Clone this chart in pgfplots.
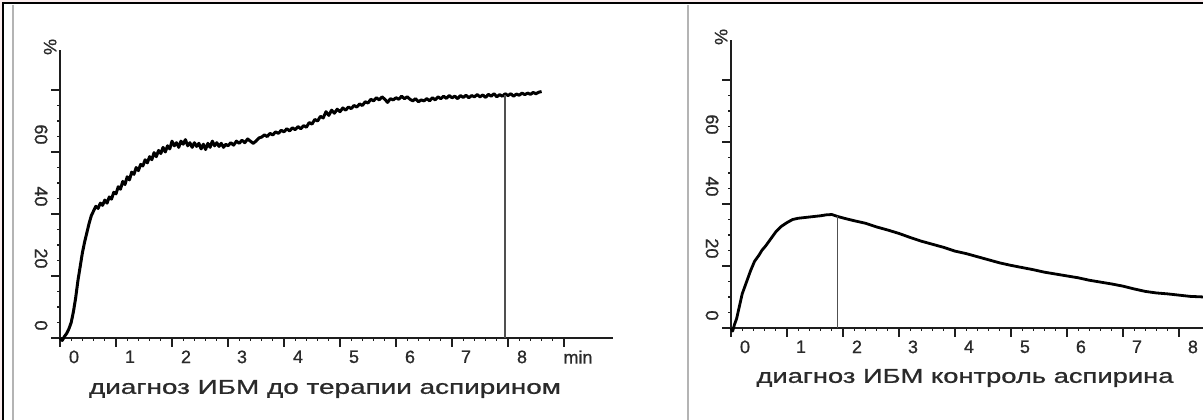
\documentclass[border=0pt]{standalone}
\usepackage{graphicx}
\usepackage{pgfplots}
\pgfplotsset{compat=1.18}
\usepackage{fontspec}
\setmainfont{Liberation Sans}[FakeBold=0.8]
\definecolor{txt}{HTML}{2A2A2A}
\definecolor{axc}{HTML}{1E1E1E}
\definecolor{vline}{HTML}{505050}
\definecolor{bgpink}{HTML}{FBEDEE}
\definecolor{sepc}{HTML}{B4B4B4}

\pgfplotstableread{
x y
0 0
0.04 -0.8
0.08 0.5
0.12 1.5
0.16 3
0.2 5
0.24 8.5
0.28 13
0.32 18.5
0.36 23
0.40 27.5
0.44 31
0.48 34
0.52 37
0.56 39.5
0.60 41
0.64 42.5
0.68 41.8
0.72 43.5
0.76 42.8
0.80 44.5
0.84 43.5
0.88 45.5
0.92 44.8
0.96 47
1.00 46.5
1.04 48.8
1.08 48
1.12 50.5
1.16 49.5
1.20 52
1.24 51
1.28 53.5
1.32 52.8
1.36 55
1.40 54
1.44 56
1.48 55.5
1.52 57.5
1.56 56.5
1.60 58.5
1.64 57.5
1.68 59.8
1.72 58.5
1.76 60.5
1.80 59.5
1.84 61.5
1.88 60
1.92 62
1.96 61
2.00 63.5
2.04 62
2.08 63
2.12 61.5
2.16 63.5
2.20 62.5
2.24 64
2.28 62
2.32 63
2.36 61.5
2.40 63
2.44 61.8
2.48 62.8
2.52 61
2.56 62.5
2.60 60.8
2.64 62.8
2.68 61.5
2.72 63.5
2.76 62
2.80 63
2.84 61.8
2.88 62.8
2.92 61.5
2.96 62.5
3.00 62
3.05 63
3.10 62.2
3.15 63.5
3.20 62.8
3.25 63.8
3.30 63
3.35 64.2
3.40 63.5
3.45 62.8
3.50 63.5
3.55 64.5
3.60 64.8
3.65 65.5
3.70 65
3.75 66
3.80 65.5
3.85 66.5
3.90 66
3.95 67
4.00 66.5
4.05 67.5
4.10 66.8
4.15 67.8
4.20 67.2
4.25 68.2
4.30 67.5
4.35 68.5
4.40 68
4.45 69.5
4.50 69
4.55 70.5
4.60 70
4.65 71.5
4.70 71
4.75 73
4.80 71.8
4.85 73.5
4.90 72.5
4.95 73.8
5.00 73
5.05 74.2
5.10 73.5
5.15 74.5
5.20 74
5.25 75
5.30 74.5
5.35 75.5
5.40 75
5.45 76.2
5.50 75.8
5.55 77
5.60 76.5
5.65 77.5
5.70 76.8
5.75 77.8
5.80 77
5.85 76
5.90 77.2
5.95 76.8
6.00 77.5
6.05 77
6.10 78
6.15 77.2
6.20 77.8
6.25 77
6.30 76.5
6.35 77.2
6.40 76.2
6.45 76.8
6.50 76.5
6.55 77.2
6.60 76.5
6.65 77.5
6.70 76.8
6.75 77.8
6.80 77.2
6.85 78
6.90 77.3
6.95 78.2
7.00 77.5
7.05 78
7.10 77.2
7.15 78.2
7.20 77.6
7.25 78.3
7.30 77.5
7.35 78.2
7.40 77.8
7.45 78.5
7.50 77.8
7.55 78.4
7.60 77.6
7.65 78.6
7.70 78
7.75 78.8
7.80 77.8
7.85 78.5
7.90 78
7.95 78.8
8.00 78.2
8.05 78.8
8.10 78
8.15 78.7
8.20 78.3
8.25 79
8.30 78.5
8.35 79
8.40 78.6
8.45 79.2
8.50 78.8
8.55 79.3
8.60 79.5
}\leftdata

\pgfplotstableread{
x y
0 0
0.03 -1
0.06 1
0.1 3
0.15 7
0.2 11
0.27 14.5
0.35 18.5
0.42 21.5
0.5 23.5
0.55 25
0.62 26.5
0.7 28.5
0.8 31
0.9 32.8
1.0 34
1.1 35
1.2 35.4
1.3 35.6
1.4 35.8
1.5 36
1.6 36.2
1.7 36.5
1.8 36.6
1.9 36
2.0 35.5
2.2 34.6
2.4 33.8
2.6 32.6
2.8 31.6
3.0 30.5
3.2 29.2
3.4 28
3.6 27
3.8 26
4.0 24.8
4.2 24
4.4 23
4.6 22
4.8 21
5.0 20.2
5.2 19.5
5.4 18.8
5.6 18
5.8 17.4
6.0 16.8
6.2 16.2
6.4 15.4
6.6 14.8
6.8 14.2
7.0 13.5
7.2 12.6
7.4 11.8
7.6 11.3
7.8 11
8.0 10.6
8.2 10.2
8.45 10
}\rightdata

\pgfplotsset{
  panel/.style={
    scale only axis, anchor=south west,
    axis x line=bottom, axis y line=left,
    axis line style={-, line width=1.5pt, color=axc},
    tick align=outside,
    major tick length=9pt, minor tick length=3pt,
    every tick/.style={axc, line width=1.4pt},
    every minor tick/.style={axc, line width=1.2pt},
    xmin=0, ymin=0, ymax=93,
    minor x tick num=4, minor y tick num=3,
    ytick={0,20,40,60,80},
    yticklabels={0,20,40,60,{}},
    tick label style={font=\fontsize{18}{20}\selectfont, text=txt},
    xticklabel style={xshift=14pt},
    yticklabel style={yshift=4pt, rotate=-90, anchor=north east},
    clip=false,
  }
}

\begin{document}
\begin{tikzpicture}[x=1pt,y=1pt]
\useasboundingbox (0,0) rectangle (1203,420);
\fill[bgpink] (0,0) rectangle (1203,420);
\fill[white] (3,0) rectangle (1203,417);
\draw[black, line width=2.5pt] (3,0) -- (3,417) -- (1203,417);
\draw[sepc, line width=1.2pt] (13,0) -- (13,415);
\draw[sepc, line width=1.8pt] (688,0) -- (688,415);

\begin{axis}[panel, at={(60pt,82pt)}, width=553pt, height=288.3pt,
  xmax=9.875, xtick={0,...,9}, xticklabels={0,1,2,3,4,5,6,7,8,min}]
  \addplot[black, line width=3pt, line join=round, no markers] table[x=x,y=y] {\leftdata};
  \addplot[vline, line width=1.7pt, no markers] coordinates {(7.95,0) (7.95,78.3)};
  \node[rotate=-90, anchor=north, font=\fontsize{18}{20}\selectfont, text=txt, xshift=-13pt] at (axis cs:0,89.7) {\%};
\end{axis}

\begin{axis}[panel, at={(731pt,92pt)}, width=472pt, height=288.3pt,
  xmax=8.43, xtick={0,...,8}, xticklabels={0,1,2,3,4,5,6,7,8}]
  \addplot[black, line width=2.8pt, line join=round, no markers] table[x=x,y=y] {\rightdata};
  \addplot[vline, line width=1.6pt, no markers] coordinates {(1.9,0) (1.9,36.2)};
  \node[rotate=-90, anchor=north, font=\fontsize{18}{20}\selectfont, text=txt, xshift=-13pt] at (axis cs:0,89.7) {\%};
\end{axis}

\node[text=txt] at (325,31) {\resizebox{472pt}{\height}{\fontsize{20}{22}\selectfont диагноз ИБМ до терапии аспирином}};
\node[text=txt] at (965,42) {\resizebox{417pt}{\height}{\fontsize{20}{22}\selectfont диагноз ИБМ контроль аспирина}};
\end{tikzpicture}
\end{document}
